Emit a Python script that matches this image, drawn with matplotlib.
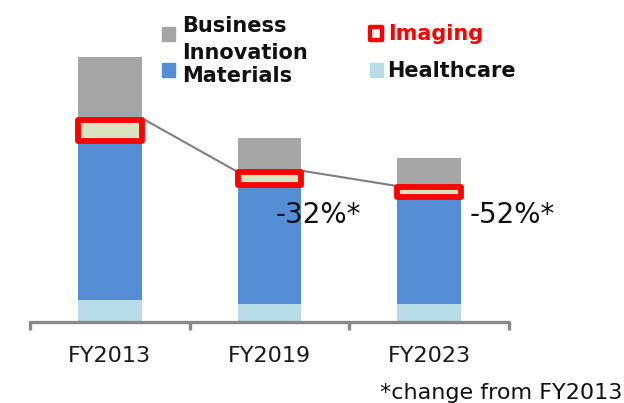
import matplotlib
matplotlib.use("Agg")
import matplotlib.pyplot as plt
from matplotlib.patches import Rectangle
import numpy as np

categories = ["FY2013", "FY2019", "FY2023"]
healthcare = [8.3, 6.8, 6.8]
materials = [60.0, 44.9, 40.4]
imaging = [7.9, 4.9, 3.8]
business_innovation = [23.8, 12.8, 10.9]
change_labels = ["-32%*", "-52%*"]
footnote = "*change from FY2013"

C_BI = "#A5A5A5"
C_MAT = "#558ED5"
C_IMG = "#D7E4BD"
C_HC = "#B7DDE8"
C_RED = "#FF0000"

W, H = 624, 403
fig = plt.figure(figsize=(W / 100, H / 100), dpi=100)

ax = fig.add_axes([30 / W, 81 / H, 479 / W, 265 / H])
x = np.arange(len(categories))
bw = 0.4
hc = np.array(healthcare)
mat = np.array(materials)
img = np.array(imaging)
bi = np.array(business_innovation)

ax.bar(x, hc, bw, color=C_HC, clip_on=False)
ax.bar(x, mat, bw, bottom=hc, color=C_MAT, clip_on=False)
ax.bar(x, img, bw, bottom=hc + mat, color=C_IMG, clip_on=False)
ax.bar(x, bi, bw, bottom=hc + mat + img, color=C_BI, clip_on=False)

# red outline around imaging segment
for xi, b, h in zip(x, hc + mat, img):
    ax.add_patch(Rectangle((xi - bw / 2, b), bw, h, fill=False, edgecolor=C_RED,
                           linewidth=4.2, joinstyle="round", clip_on=False, zorder=4))

# connecting line between imaging tops
tops = hc + mat + img
for i in range(len(x) - 1):
    ax.plot([x[i] + bw / 2 + 0.01, x[i + 1] - bw / 2 - 0.01], [tops[i] + 0.4, tops[i + 1] + 0.4],
            color="#7F7F7F", linewidth=1.5, zorder=3, clip_on=False)

ax.set_xlim(-0.5, len(x) - 0.5)
ax.set_ylim(0, 100)
for s in ["left", "right", "top"]:
    ax.spines[s].set_visible(False)
ax.spines["bottom"].set_color("#898989")
ax.spines["bottom"].set_linewidth(2.4)
ax.spines["bottom"].set_capstyle("round")
ax.set_yticks([])
ax.set_xticks(x)
ax.set_xticklabels(categories, fontsize=16, color="#1a1a1a")
ax.tick_params(axis="x", which="major", length=0, pad=17)
ax.set_xticks(np.arange(-0.5, len(x), 1.0), minor=True)
ax.tick_params(axis="x", which="minor", length=6, width=2.4, color="#898989", direction="out")

# overlay in pixel coordinates for legend and annotations
ov = fig.add_axes([0, 0, 1, 1])
ov.set_xlim(0, W)
ov.set_ylim(H, 0)
ov.axis("off")
ov.patch.set_alpha(0)

# legend
ov.add_patch(Rectangle((162, 27), 13, 14, color=C_BI))
ov.text(182, 32, "Business", fontsize=15, fontweight="bold", va="baseline", color="#111111")
ov.text(182, 59, "Innovation", fontsize=15, fontweight="bold", va="baseline", color="#111111")
ov.add_patch(Rectangle((162, 63), 13, 14, color=C_MAT))
ov.text(182, 82, "Materials", fontsize=15, fontweight="bold", va="baseline", color="#111111")
ov.add_patch(Rectangle((370, 27), 12, 13, facecolor="white", edgecolor=C_RED,
                       linewidth=3.2, joinstyle="round"))
ov.text(388, 40, "Imaging", fontsize=15, fontweight="bold", va="baseline", color=C_RED)
ov.add_patch(Rectangle((370, 63), 13, 14, color=C_HC))
ov.text(387, 77, "Healthcare", fontsize=15, fontweight="bold", va="baseline", color="#111111")

# change labels
ov.text(276, 223, change_labels[0], fontsize=20, va="baseline", color="#111111")
ov.text(470, 223, change_labels[1], fontsize=20, va="baseline", color="#111111")
ov.text(622, 399, footnote, fontsize=16, ha="right", va="baseline", color="#111111")

fig.savefig("out.png", dpi=100)
